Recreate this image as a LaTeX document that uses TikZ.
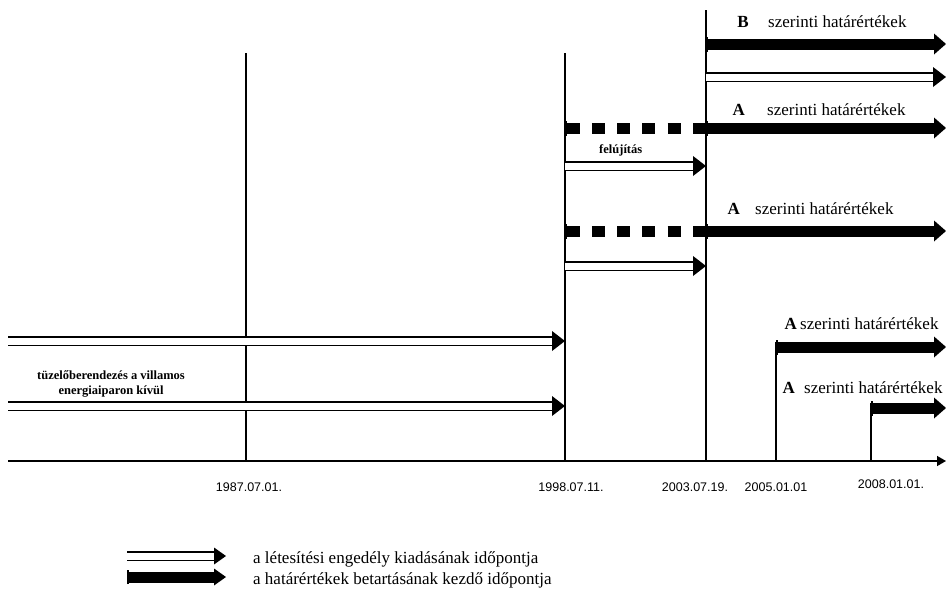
\documentclass[tikz,border=0pt]{standalone}
\usepackage{fontspec}
\setmainfont{Liberation Serif}
\newfontfamily\datumfont{Liberation Sans}
\usetikzlibrary{arrows.meta, positioning}

\begin{document}
\begin{tikzpicture}[
  x=1pt, y=-1pt,
  vonal/.style={line width=1.3pt},
  tengely/.style={line width=1.4pt, -{Triangle[length=9pt, width=10pt]}},
  engedely/.style={double, double distance=7pt, line width=1.2pt, -{Triangle[length=13pt, width=20pt, line width=0pt]}},
  hatar/.style={line width=11pt, {Bar[width=15pt, line width=2pt]}-{Triangle[length=12pt, width=21pt, line width=0pt]}},
  felujit/.style={line width=11pt, dash pattern=on 13pt off 12.3pt, {Bar[width=15pt, line width=2pt]}-},
  cimke/.style={font=\fontsize{17}{20}\selectfont, inner sep=0pt, anchor=base west},
  betu/.style={font=\fontsize{17}{20}\selectfont\bfseries, inner sep=0pt},
  kis/.style={font=\fontsize{12.5}{15}\selectfont\bfseries, align=center, inner sep=0pt},
  datum/.style={font=\fontsize{12.5}{15}\selectfont\datumfont, inner sep=0pt},
  jelmagy/.style={font=\fontsize{17}{20}\selectfont, inner sep=0pt, anchor=base west}
]
\useasboundingbox (0,0) rectangle (946,592);

% idopontok a tengelyen
\coordinate (o) at (8,461);
\coordinate (vege) at (946,461);
\coordinate (t87) at (246,461);
\coordinate (t98) at (565,461);
\coordinate (t03) at (706,461);
\coordinate (t05) at (776,461);
\coordinate (t08) at (871,461);

\draw[tengely] (o) -- (vege);
\draw[vonal] (t87) -- (t87 |- 0,53);
\draw[vonal] (t98) -- (t98 |- 0,53);
\draw[vonal] (t03) -- (t03 |- 0,10);
\draw[vonal] (t05) -- (t05 |- 0,342);
\draw[vonal] (t08) -- (t08 |- 0,403);

\node[datum] (d87) at (249,487) {1987.07.01.};
\node[datum] (d98) at (571,487) {1998.07.11.};
\node[datum] (d03) at (695,487) {2003.07.19.};
\node[datum] (d05) at (776,487) {2005.01.01};
\node[datum] (d08) at (891,484) {2008.01.01.};

% B szerinti
\node[cimke] (lB) at (768,27) {szerinti határértékek};
\node[betu, base left=19pt of lB] (B) {B};
\draw[hatar] (t03 |- 0,44) -- (vege |- 0,44);
\draw[engedely] (t03 |- 0,77) -- (vege |- 0,77);

% A szerinti, felujitas
\node[cimke] (lA1) at (767,115) {szerinti határértékek};
\node[betu, base left=22pt of lA1] (A1) {A};
\draw[felujit] (t98 |- 0,128) -- (t03 |- 0,128);
\draw[hatar] (t03 |- 0,128) -- (vege |- 0,128);
\node[kis, anchor=base west] (fel) at (599,153) {felújítás};
\draw[engedely] (t98 |- 0,166) -- (t03 |- 0,166);

\node[cimke] (lA2) at (755,214) {szerinti határértékek};
\node[betu, base left=15pt of lA2] (A2) {A};
\draw[felujit] (t98 |- 0,231) -- (t03 |- 0,231);
\draw[hatar] (t03 |- 0,231) -- (vege |- 0,231);
\draw[engedely] (t98 |- 0,266) -- (t03 |- 0,266);

% villamos energiaiparon kivul
\draw[engedely] (o |- 0,341) -- (t98 |- 0,341);
\node[kis] (tuz) at (111,384) {tüzelőberendezés a villamos\\energiaiparon kívül};
\draw[engedely] (o |- 0,406) -- (t98 |- 0,406);

\node[cimke] (lA3) at (800,329) {szerinti határértékek};
\node[betu, base left=3pt of lA3] (A3) {A};
\draw[hatar] (t05 |- 0,347) -- (vege |- 0,347);

\node[cimke] (lA4) at (804,393) {szerinti határértékek};
\node[betu, base left=9pt of lA4] (A4) {A};
\draw[hatar] (t08 |- 0,408) -- (vege |- 0,408);

% jelmagyarazat
\coordinate (j1) at (127,556);
\coordinate (j2) at (226,556);
\coordinate (j3) at (127,577);
\coordinate (j4) at (226,577);
\draw[engedely, -{Triangle[length=12pt, width=17pt, line width=0pt]}] (j1) -- (j2);
\draw[hatar, {Bar[width=14pt, line width=2pt]}-{Triangle[length=12pt, width=17pt, line width=0pt]}] (j3) -- (j4);
\node[jelmagy] (m1) at (253,563) {a létesítési engedély kiadásának időpontja};
\node[jelmagy] (m2) at (253,584) {a határértékek betartásának kezdő időpontja};
\end{tikzpicture}
\end{document}
